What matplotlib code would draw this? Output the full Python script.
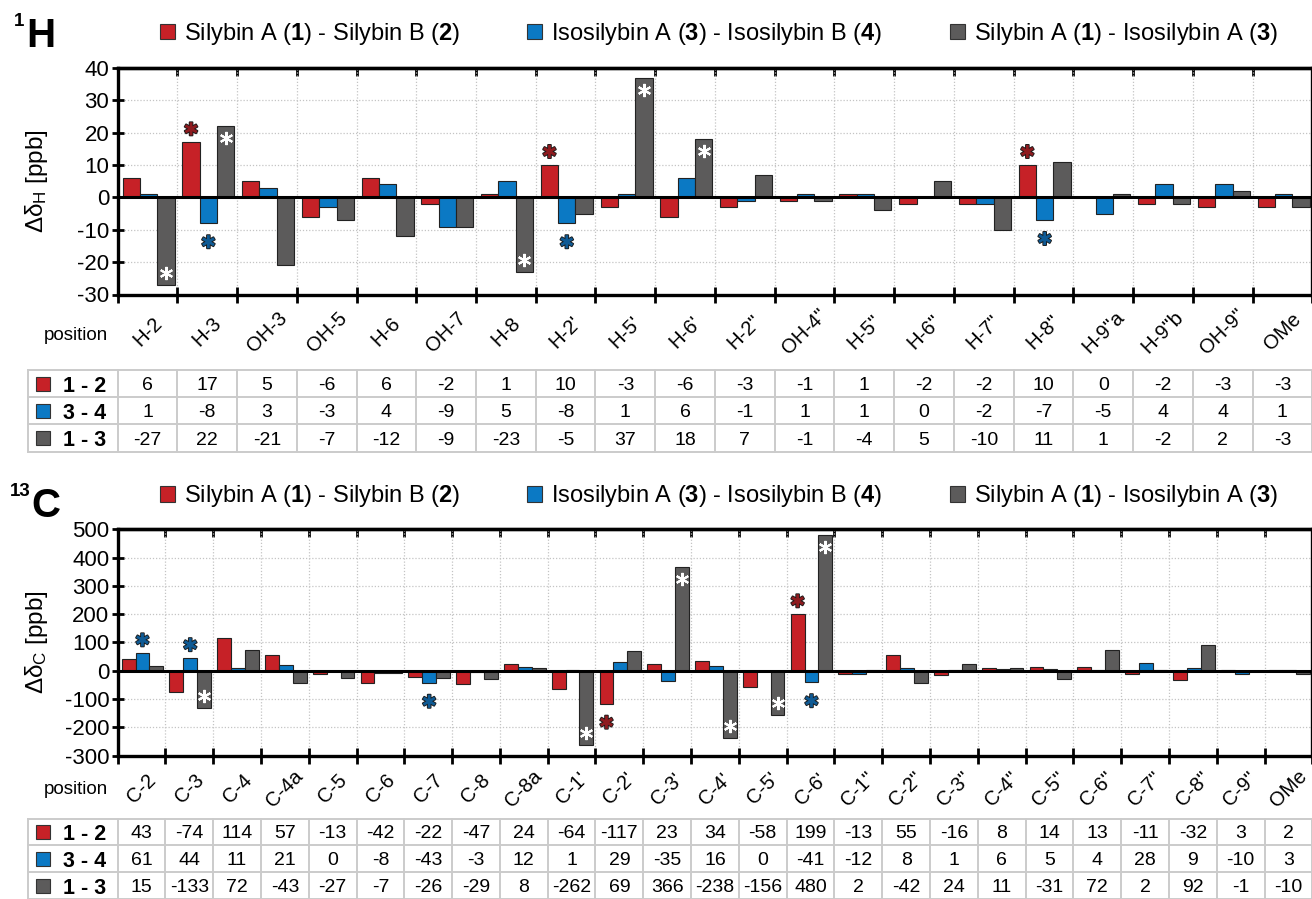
import matplotlib
matplotlib.use("Agg")
import matplotlib.pyplot as plt
import numpy as np
import matplotlib.transforms as mtransforms
import matplotlib.patheffects as pe
from matplotlib.patches import Patch

plt.rcParams['font.family'] = ['Liberation Sans', 'DejaVu Sans']
plt.rcParams['mathtext.fontset'] = 'custom'
plt.rcParams['mathtext.rm'] = 'Liberation Sans'
plt.rcParams['mathtext.bf'] = 'Liberation Sans:bold'
plt.rcParams['mathtext.it'] = 'Liberation Sans:italic'
plt.rcParams['axes.unicode_minus'] = False

# ---------------- data ----------------
series_labels = [r"Silybin A ($\mathbf{1}$) - Silybin B ($\mathbf{2}$)",
                 r"Isosilybin A ($\mathbf{3}$) - Isosilybin B ($\mathbf{4}$)",
                 r"Silybin A ($\mathbf{1}$) - Isosilybin A ($\mathbf{3}$)"]
row_labels = ["1 - 2", "3 - 4", "1 - 3"]

h_positions = ["H-2", "H-3", "OH-3", "OH-5", "H-6", "OH-7", "H-8", "H-2'", "H-5'", "H-6'",
               'H-2"', 'OH-4"', 'H-5"', 'H-6"', 'H-7"', 'H-8"', 'H-9"a', 'H-9"b', 'OH-9"', "OMe"]
h_12 = [6, 17, 5, -6, 6, -2, 1, 10, -3, -6, -3, -1, 1, -2, -2, 10, 0, -2, -3, -3]
h_34 = [1, -8, 3, -3, 4, -9, 5, -8, 1, 6, -1, 1, 1, 0, -2, -7, -5, 4, 4, 1]
h_13 = [-27, 22, -21, -7, -12, -9, -23, -5, 37, 18, 7, -1, -4, 5, -10, 11, 1, -2, 2, -3]
h_sig_12 = ["H-3", "H-2'", 'H-8"']
h_sig_34 = ["H-3", "H-2'", 'H-8"']
h_sig_13 = ["H-2", "H-3", "H-8", "H-5'", "H-6'"]
h_yticks = [-30, -20, -10, 0, 10, 20, 30, 40]

c_positions = ["C-2", "C-3", "C-4", "C-4a", "C-5", "C-6", "C-7", "C-8", "C-8a", "C-1'", "C-2'",
               "C-3'", "C-4'", "C-5'", "C-6'", 'C-1"', 'C-2"', 'C-3"', 'C-4"', 'C-5"', 'C-6"',
               'C-7"', 'C-8"', 'C-9"', "OMe"]
c_12 = [43, -74, 114, 57, -13, -42, -22, -47, 24, -64, -117, 23, 34, -58, 199, -13, 55, -16, 8, 14, 13, -11, -32, 3, 2]
c_34 = [61, 44, 11, 21, 0, -8, -43, -3, 12, 1, 29, -35, 16, 0, -41, -12, 8, 1, 6, 5, 4, 28, 9, -10, 3]
c_13 = [15, -133, 72, -43, -27, -7, -26, -29, 8, -262, 69, 366, -238, -156, 480, 2, -42, 24, 11, -31, 72, 2, 92, -1, -10]
c_sig_12 = ["C-2'", "C-6'"]
c_sig_34 = ["C-2", "C-3", "C-7", "C-6'"]
c_sig_13 = ["C-3", "C-1'", "C-3'", "C-4'", "C-5'", "C-6'"]
c_yticks = [-300, -200, -100, 0, 100, 200, 300, 400, 500]

# ---------------- style ----------------
W, H = 1312, 899
bar_colors = ['#C62127', '#0B79C4', '#5C5B5B']
star_colors = ['#8E1B1F', '#0F5A94', 'white']
edge = '#222222'
grid_c = '#C4C4C4'
table_line = '#CBCBCB'

fig = plt.figure(figsize=(W / 100, H / 100), dpi=100)


def fr(x0, y0, x1, y1):
    return [x0 / W, 1 - y1 / H, (x1 - x0) / W, (y1 - y0) / H]


AX_L, AX_R, TBL_L = 117.6, 1312.3, 28.3


def panel(top, bottom, tbl_top, tbl_rowh, positions, series, sigs, yticks,
          title_main, title_sup, ylab_sub, leg_y, pos_y, lab_pad):
    n = len(positions)
    ax = fig.add_axes(fr(AX_L, top, AX_R, bottom))
    x = np.arange(n)
    w = 0.29
    offs = [-w, 0, w]
    for k in range(3):
        ax.bar(x + offs[k] + 0.02, series[k], width=w, color=bar_colors[k],
               edgecolor=edge, linewidth=0.8, zorder=3)
    ax.axhline(0, color='black', lw=2.2, zorder=4)
    ax.set_xlim(-0.5, n - 0.5)
    ax.set_ylim(yticks[0], yticks[-1])
    ax.set_yticks(yticks)
    ax.tick_params(axis='y', direction='inout', length=9, width=2, pad=1.5, labelsize=16)
    bounds = np.arange(n + 1) - 0.5
    ax.set_xticks(bounds)
    ax.set_xticklabels([])
    ax.tick_params(axis='x', which='major', direction='inout', length=11, width=2, top=False)
    ax.set_xticks(x, minor=True)
    ax.set_xticklabels(positions, minor=True, rotation=45, ha='center', va='center',
                       rotation_mode='anchor', fontsize=14.5)
    ax.tick_params(axis='x', which='minor', length=0, pad=lab_pad)
    sec = ax.secondary_xaxis('top')
    sec.set_xticks(bounds)
    sec.tick_params(direction='in', length=6, width=2, labeltop=False)
    sec.spines['top'].set_linewidth(2.4)
    ax.grid(True, which='major', color=grid_c, linestyle=(0, (1, 1.5)), lw=0.9, zorder=0)
    ax.set_axisbelow(True)
    for s in ax.spines.values():
        s.set_linewidth(2.4)

    # significance stars
    for k in range(3):
        for name in sigs[k]:
            i = positions.index(name)
            v = series[k][i]
            sign = 1 if v >= 0 else -1
            inside = (k == 2)
            xi = x[i] + offs[k] + 0.02
            if inside:
                tr = mtransforms.offset_copy(ax.transData, fig=fig, x=0, y=-12 * sign * 0.72,
                                             units='points')
                ax.plot([xi], [v], marker=(6, 2, 0), ms=9.5, mew=1.5, mec='white',
                        transform=tr, zorder=6, clip_on=False)
            else:
                tr = mtransforms.offset_copy(ax.transData, fig=fig, x=0, y=(16 * sign - 4) * 0.72,
                                             units='points')
                ax.text(xi, v, "\u2731", transform=tr, ha='center', va='center', fontsize=13,
                        family='DejaVu Sans', color=star_colors[k], zorder=7, clip_on=False,
                        path_effects=[pe.withStroke(linewidth=1.3, foreground='#1a1a1a')])

    # y label
    fig.text(36 / W, 1 - (top + bottom) / 2 / H, "Δδ$_\\mathrm{" + ylab_sub + "}$ [ppb]",
             rotation=90, ha='center', va='center', fontsize=17.5)
    # panel title
    fig.text(title_main[0] / W, 1 - title_main[1] / H, title_main[2], fontsize=29,
             fontweight='bold', ha='left', va='center')
    fig.text(title_sup[0] / W, 1 - title_sup[1] / H, title_sup[2], fontsize=13.5,
             fontweight='bold', ha='right', va='center')
    # legend
    handles = [Patch(facecolor=c, edgecolor='#333333', lw=0.8) for c in bar_colors]
    fig.legend(handles, series_labels, loc='center left', bbox_to_anchor=(160 / W, 1 - leg_y / H),
               ncol=3, frameon=False, fontsize=17, handlelength=0.63, handleheight=0.63,
               handletextpad=0.38, columnspacing=2.85, borderpad=0, borderaxespad=0)
    # "position"
    fig.text(108 / W, 1 - pos_y / H, "position", ha='right', va='center', fontsize=13.5)

    # table
    catw = (AX_R - AX_L) / n
    hdr = (AX_L - TBL_L) / catw
    axt = fig.add_axes(fr(TBL_L, tbl_top, AX_R, tbl_top + 3 * tbl_rowh))
    axt.set_xlim(-0.5 - hdr, n - 0.5)
    axt.set_ylim(3, 0)
    axt.axis('off')
    for xb in [-0.5 - hdr] + list(bounds):
        axt.plot([xb, xb], [0, 3], color=table_line, lw=1.4, clip_on=False)
    for yb in range(4):
        axt.plot([-0.5 - hdr, n - 0.5], [yb, yb], color=table_line, lw=1.4, clip_on=False)
    for r in range(3):
        axt.plot([-0.5 - hdr + 14.7 / catw], [r + 0.5], marker='s', ms=10.5,
                 mfc=bar_colors[r], mec='#333333', mew=0.8)
        axt.text(-0.5 - hdr + 34.5 / catw, r + 0.5, row_labels[r], fontweight='bold',
                 fontsize=15.5, ha='left', va='center_baseline')
        for i, v in enumerate(series[r]):
            axt.text(i, r + 0.5, str(v), ha='center', va='center_baseline', fontsize=14)
    return ax


panel(68, 294.5, 370, 27.2, h_positions, [h_12, h_34, h_13], [h_sig_12, h_sig_34, h_sig_13],
      h_yticks, (26, 36, "H"), (24, 21, "1"), "H", 34, 335, 27)
panel(529.3, 755.5, 818.5, 26.8, c_positions, [c_12, c_34, c_13], [c_sig_12, c_sig_34, c_sig_13],
      c_yticks, (31, 506, "C"), (31, 491, "13"), "C", 496.5, 790, 24)

fig.savefig("out.png", dpi=100)
